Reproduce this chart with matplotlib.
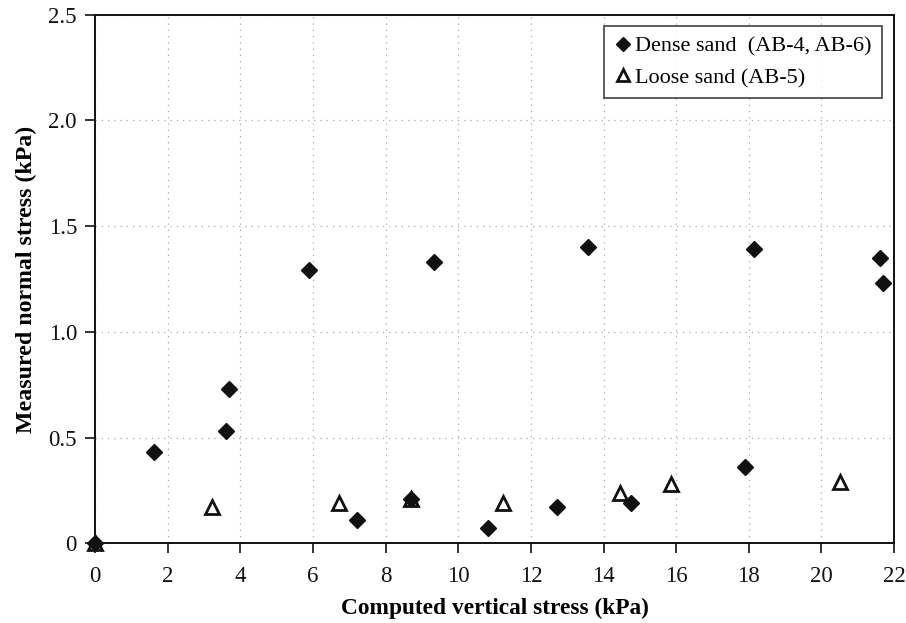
import matplotlib
matplotlib.use("Agg")
import matplotlib.pyplot as plt
from matplotlib.ticker import FuncFormatter

plt.rcParams["font.family"] = ["Liberation Serif", "DejaVu Serif"]

# Dense sand (AB-4, AB-6)
dense_x = [0.0, 1.63, 3.61, 3.69, 5.89, 7.2, 8.7, 9.34, 10.83, 12.72, 13.58, 14.75, 17.9, 18.13, 21.6, 21.68]
dense_y = [0.0, 0.43, 0.53, 0.73, 1.29, 0.11, 0.21, 1.33, 0.07, 0.17, 1.40, 0.19, 0.36, 1.39, 1.35, 1.23]

# Loose sand (AB-5)
loose_x = [0.0, 3.22, 6.73, 8.7, 11.22, 14.44, 15.86, 20.5]
loose_y = [0.0, 0.17, 0.19, 0.21, 0.19, 0.24, 0.28, 0.29]

x_ticks = list(range(0, 23, 2))
y_ticks = [0, 0.5, 1.0, 1.5, 2.0, 2.5]

fig = plt.figure(figsize=(9.06, 6.23), dpi=100)
ax = fig.add_axes([0.1049, 0.128, 0.882, 0.8485])

ax.plot(loose_x, loose_y, linestyle="none", marker="^", markersize=10.5,
        markerfacecolor="white", markeredgecolor="#111111", markeredgewidth=2,
        clip_on=False, zorder=3, label="Loose sand (AB-5)")
ax.plot(dense_x, dense_y, linestyle="none", marker="D", markersize=8.5,
        color="#111111", clip_on=False, zorder=4, label="Dense sand  (AB-4, AB-6)")

ax.set_xlim(0, 22)
ax.set_ylim(0, 2.5)
ax.set_xticks(x_ticks)
ax.set_yticks(y_ticks)
ax.yaxis.set_major_formatter(FuncFormatter(lambda v, _: "0" if v == 0 else f"{v:.1f}"))
ax.tick_params(axis="both", direction="out", length=7, width=1.2, labelsize=16.5, pad=6, colors="#111111")
ax.tick_params(axis="x", pad=9.5)
ax.grid(True, linestyle=(0, (1, 4)), color="#aaaaaa", linewidth=0.9)
for side in ax.spines.values():
    side.set_linewidth(1.4)
    side.set_color("#111111")

ax.set_xlabel("Computed vertical stress (kPa)", fontsize=16.8, fontweight="bold", labelpad=8)
ax.set_ylabel("Measured normal stress (kPa)", fontsize=17.2, fontweight="bold", labelpad=8)

handles, labels = ax.get_legend_handles_labels()
leg = ax.legend(handles[::-1], labels[::-1], loc="upper right", bbox_to_anchor=(0.9846, 0.9786),
                borderaxespad=0, fontsize=16, frameon=True, fancybox=False, edgecolor="#111111",
                handletextpad=0.2, handlelength=0.75, borderpad=0.45, labelspacing=0.5,
                markerscale=0.8)
leg.get_frame().set_linewidth(1.2)

fig.savefig("out.png", dpi=100)
